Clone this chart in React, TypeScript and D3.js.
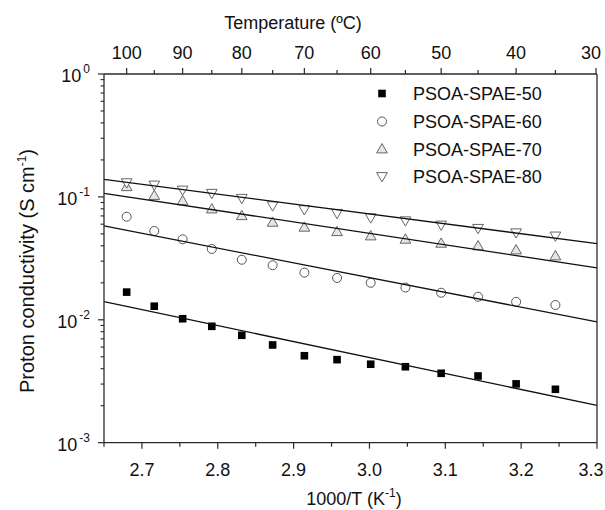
import React from "react";
import * as d3 from "d3";

const temperatures = [100, 95, 90, 85, 80, 75, 70, 65, 60, 55, 50, 45, 40, 35];
const seriesNames = ["PSOA-SPAE-50", "PSOA-SPAE-60", "PSOA-SPAE-70", "PSOA-SPAE-80"];
const s50 = [0.0168, 0.0129, 0.0102, 0.00885, 0.00748, 0.00624, 0.0051, 0.00474, 0.00435, 0.00415, 0.00367, 0.00349, 0.00301, 0.00272];
const s60 = [0.069, 0.0528, 0.0452, 0.0377, 0.0308, 0.0278, 0.0242, 0.0219, 0.02, 0.0183, 0.0166, 0.0154, 0.014, 0.0132];
const s70 = [0.121, 0.1026, 0.0929, 0.0797, 0.0703, 0.0621, 0.0566, 0.0521, 0.0481, 0.0452, 0.0419, 0.0399, 0.037, 0.0331];
const s80 = [0.1305, 0.125, 0.1138, 0.107, 0.0974, 0.0848, 0.0788, 0.0735, 0.0677, 0.064, 0.0591, 0.0555, 0.0511, 0.0481];
// fitted Arrhenius lines: value at x = 2.65 and x = 3.3
const fitStart = [0.01403, 0.058, 0.107, 0.139];
const fitEnd = [0.00201, 0.0096, 0.0265, 0.0417];
const xDomain = [2.65, 3.3];
const xMajorTicks = [2.7, 2.8, 2.9, 3.0, 3.1, 3.2, 3.3];
const xMinorTicks = [2.65, 2.75, 2.85, 2.95, 3.05, 3.15, 3.25];
const topMajorTicks = [100, 90, 80, 70, 60, 50, 40, 30];
const topMinorTicks = [95, 85, 75, 65, 55, 45, 35];
const yDecades = [0, -1, -2, -3];

const FONT = "'Liberation Sans', Arial, sans-serif";

export default function App() {
  const W = 605, H = 510;
  const left = 104, right = 597, top = 74, bottom = 442.7;
  const x = d3.scaleLinear().domain(xDomain).range([left, right]);
  const y = d3.scaleLog().domain([1e-3, 1]).range([bottom, top]);
  const invT = (t: number) => 1000 / (t + 273.15);
  const allSeries = [s50, s60, s70, s80];
  const axisColor = "#2a2a2a";

  const line = d3.line<[number, number]>().x(d => x(d[0])).y(d => y(d[1]));

  const yMinor: number[] = [];
  yDecades.slice(1).forEach(e => {
    for (let m = 2; m <= 9; m++) yMinor.push(m * Math.pow(10, e));
  });

  // keep edge labels inside the picture, as in the reference
  const labelX = (px: number) => Math.min(px, W - 14);

  const marker = (i: number, cx: number, cy: number, key: string) => {
    if (i === 0) {
      return <rect key={key} x={cx - 3.8} y={cy - 3.8} width={7.6} height={7.6} fill="#000" />;
    }
    if (i === 1) {
      return <circle key={key} cx={cx} cy={cy} r={4.5} fill="#fff" stroke="#555" strokeWidth={1} />;
    }
    const sym = d3.symbol().type(d3.symbolTriangle).size(50)()!;
    return (
      <path
        key={key}
        d={sym}
        transform={`translate(${cx},${cy + (i === 2 ? 0.8 : -0.8)}) rotate(${i === 3 ? 180 : 0})`}
        fill={i === 2 ? "#e6e6e6" : "#fff"}
        stroke="#666"
        strokeWidth={1}
      />
    );
  };

  const legendX = 382;
  const legendBase = [100, 128, 155.5, 183];

  return (
    <svg width={W} height={H} style={{ position: "absolute", left: 0, top: 0, background: "#fff" }} fontFamily={FONT}>
      <rect x={0} y={0} width={W} height={H} fill="#fff" />
      {/* markers */}
      {allSeries.map((s, i) =>
        s.map((v, j) => marker(i, x(invT(temperatures[j])), y(v), `m${i}-${j}`))
      )}
      {/* fit lines */}
      {allSeries.map((_, i) => (
        <path
          key={`f${i}`}
          d={line([[xDomain[0], fitStart[i]], [xDomain[1], fitEnd[i]]])!}
          stroke="#111"
          strokeWidth={1.3}
          fill="none"
        />
      ))}
      {/* frame */}
      <line x1={left} x2={right} y1={bottom} y2={bottom} stroke={axisColor} strokeWidth={1.3} />
      <line x1={left} x2={right} y1={top} y2={top} stroke={axisColor} strokeWidth={1.3} />
      <line x1={left} x2={left} y1={top} y2={bottom} stroke={axisColor} strokeWidth={1.3} />
      <line x1={right} x2={right} y1={top} y2={bottom} stroke={axisColor} strokeWidth={1.3} />
      {/* bottom ticks */}
      {xMajorTicks.map(t => (
        <g key={`xb${t}`}>
          <line x1={x(t)} x2={x(t)} y1={bottom} y2={bottom + 6} stroke={axisColor} strokeWidth={1.2} />
          <text x={labelX(x(t))} y={476} fontSize={18} textAnchor="middle" fill="#111">{d3.format(".1f")(t)}</text>
        </g>
      ))}
      {xMinorTicks.map(t => (
        <line key={`xbm${t}`} x1={x(t)} x2={x(t)} y1={bottom} y2={bottom + 4} stroke={axisColor} strokeWidth={1.2} />
      ))}
      {/* top ticks */}
      {topMajorTicks.map(t => (
        <g key={`xt${t}`}>
          <line x1={x(invT(t))} x2={x(invT(t))} y1={top} y2={top - 6} stroke={axisColor} strokeWidth={1.2} />
          <text x={labelX(x(invT(t)))} y={58.5} fontSize={18} textAnchor="middle" fill="#111">{t}</text>
        </g>
      ))}
      {topMinorTicks.map(t => (
        <line key={`xtm${t}`} x1={x(invT(t))} x2={x(invT(t))} y1={top} y2={top - 4} stroke={axisColor} strokeWidth={1.2} />
      ))}
      {/* left ticks */}
      {yDecades.map(e => (
        <g key={`yd${e}`}>
          <line x1={left - 6} x2={left} y1={y(Math.pow(10, e))} y2={y(Math.pow(10, e))} stroke={axisColor} strokeWidth={1.2} />
          <text x={90} y={y(Math.pow(10, e)) + 8} fontSize={18} textAnchor="end" fill="#111">
            10<tspan fontSize={12} dx={2} dy={-9}>{e}</tspan>
          </text>
        </g>
      ))}
      {yMinor.map((v, k) => (
        <line key={`ym${k}`} x1={left - 3.5} x2={left} y1={y(v)} y2={y(v)} stroke={axisColor} strokeWidth={1.1} />
      ))}
      {/* axis titles */}
      <text x={293} y={29} fontSize={18} textAnchor="middle" fill="#111">Temperature (ºC)</text>
      <text x={354} y={505} fontSize={18} textAnchor="middle" fill="#111">
        1000/T (K<tspan fontSize={12} dy={-8}>-1</tspan><tspan dy={8}>)</tspan>
      </text>
      <text transform={`translate(34,${271}) rotate(-90)`} fontSize={20} textAnchor="middle" fill="#111">
        Proton conductivity (S cm<tspan fontSize={12} dy={-8}>-1</tspan><tspan dy={8}>)</tspan>
      </text>
      {/* legend */}
      {seriesNames.map((n, i) => (
        <g key={`lg${i}`}>
          {marker(i, legendX, legendBase[i] - 6.5, `lm${i}`)}
          <text x={413} y={legendBase[i]} fontSize={18} fill="#111">{n}</text>
        </g>
      ))}
    </svg>
  );
}
